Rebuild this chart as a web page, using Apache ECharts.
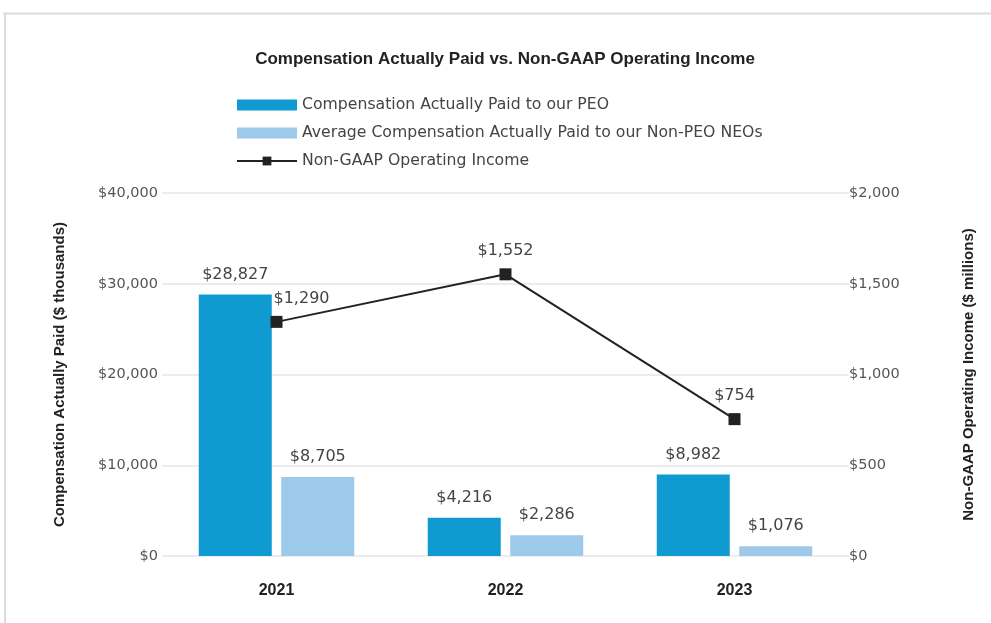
<!DOCTYPE html>
<html><head><meta charset="utf-8">
<script src="https://cdn.jsdelivr.net/npm/echarts@6/dist/echarts.min.js"></script>
<style>html,body{margin:0;padding:0;background:#fff}#c{width:991px;height:623px}</style>
</head><body><div id="c"></div>
<script>
const categories = ['2021', '2022', '2023'];
const peoValues = [28827, 4216, 8982];
const neoValues = [8705, 2286, 1076];
const incomeValues = [1290, 1552, 754];
const leftTicks = [0, 10000, 20000, 30000, 40000];
const rightTicks = [0, 500, 1000, 1500, 2000];
const seriesNames = ['Compensation Actually Paid to our PEO', 'Average Compensation Actually Paid to our Non-PEO NEOs', 'Non-GAAP Operating Income'];

const fmt = v => '$' + Number(v).toLocaleString('en-US');
const font = '"Liberation Sans", Arial, sans-serif';
const wide = '"DejaVu Sans", sans-serif';
const chart = echarts.init(document.getElementById('c'), null, {renderer: 'canvas'});
chart.setOption({
  animation: false,
  textStyle: {fontFamily: font},
  title: {
    text: 'Compensation Actually Paid vs. Non-GAAP Operating Income',
    left: 500, top: 46, textAlign: 'center',
    textStyle: {fontFamily: font, fontWeight: 'bold', fontSize: 17, color: '#222'}
  },
  graphic: [
    {type: 'line', shape: {x1: 3, y1: 13.5, x2: 991, y2: 13.5}, style: {stroke: '#dcdcdc', lineWidth: 2}},
    {type: 'line', shape: {x1: 5, y1: 13, x2: 5, y2: 623}, style: {stroke: '#dcdcdc', lineWidth: 2}}
  ],
  legend: {
    orient: 'vertical', left: 231, top: 92, itemWidth: 60, itemHeight: 11, itemGap: 12,
    textStyle: {fontFamily: wide, fontSize: 15.7, color: '#444'},
    data: [
      {name: seriesNames[0], icon: 'rect'},
      {name: seriesNames[1], icon: 'rect'},
      {name: seriesNames[2]}
    ]
  },
  grid: {left: 162, right: 142, top: 193, bottom: 67},
  xAxis: {
    type: 'category', data: categories,
    axisLine: {show: false}, axisTick: {show: false},
    axisLabel: {fontSize: 16, fontWeight: 'bold', color: '#222', margin: 27}
  },
  yAxis: [
    {
      type: 'value', min: 0, max: 40000, interval: 10000,
      name: 'Compensation Actually Paid ($ thousands)', nameLocation: 'middle', nameGap: 95, nameRotate: 90,
      nameTextStyle: {fontSize: 15, fontWeight: 'bold', color: '#222'},
      axisLine: {show: false}, axisTick: {show: false},
      axisLabel: {formatter: v => fmt(v), fontFamily: wide, fontSize: 14.5, color: '#555', margin: 4},
      splitLine: {lineStyle: {color: '#e6e6e6', width: 1.5}}
    },
    {
      type: 'value', min: 0, max: 2000, interval: 500,
      name: 'Non-GAAP Operating Income ($ millions)', nameLocation: 'middle', nameGap: 112, nameRotate: 90,
      nameTextStyle: {fontSize: 15, fontWeight: 'bold', color: '#222'},
      axisLine: {show: false}, axisTick: {show: false},
      axisLabel: {formatter: v => fmt(v), fontFamily: wide, fontSize: 14.5, color: '#555', margin: 0},
      splitLine: {show: false}
    }
  ],
  series: [
    {
      name: seriesNames[0], type: 'bar', data: peoValues, barWidth: 73, barGap: '13%',
      itemStyle: {color: '#0f9bd2'},
      label: {show: true, position: 'top', formatter: p => fmt(p.value), fontFamily: wide, fontSize: 16, color: '#444', distance: 12}
    },
    {
      name: seriesNames[1], type: 'bar', data: neoValues, barWidth: 73,
      itemStyle: {color: '#9dcaea'},
      label: {show: true, position: 'top', formatter: p => fmt(p.value), fontFamily: wide, fontSize: 16, color: '#444', distance: 12}
    },
    {
      name: seriesNames[2], type: 'line', yAxisIndex: 1,
      data: incomeValues.map((v, i) => i === 0 ? {value: v, label: {offset: [25, 0]}} : v),
      symbol: 'rect', symbolSize: 12,
      lineStyle: {color: '#222', width: 2}, itemStyle: {color: '#222'},
      label: {show: true, position: 'top', formatter: p => fmt(p.value), fontFamily: wide, fontSize: 16, color: '#444', distance: 9}
    }
  ]
});
</script></body></html>
